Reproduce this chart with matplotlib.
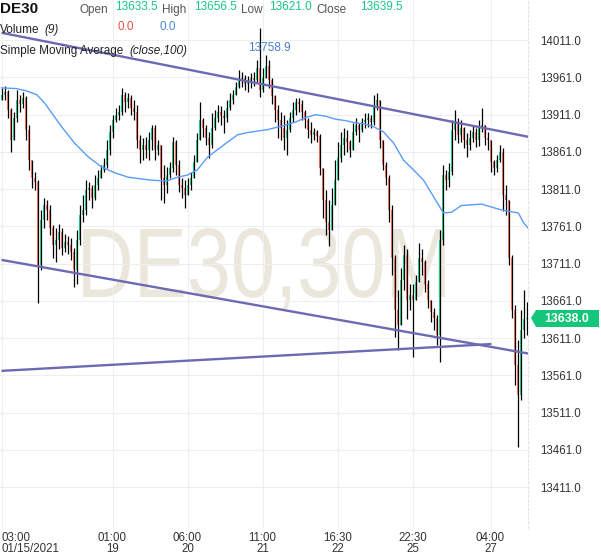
import matplotlib
matplotlib.use("Agg")
import matplotlib.pyplot as plt
from matplotlib.patches import Polygon, PathPatch
from matplotlib.font_manager import FontProperties
from matplotlib.textpath import TextPath
from matplotlib.transforms import Affine2D, IdentityTransform

# ---- candle data (30M bars, DE30) ----
first_open = 13931
closes = [
    13938, 13942, 13917, 13877, 13907, 13931, 13925, 13934, 13891, 13850,
    13826, 13821, 13709, 13770, 13790, 13783, 13759, 13736, 13743, 13754,
    13732, 13740, 13736, 13727, 13703, 13743, 13776, 13783, 13810, 13813,
    13799, 13817, 13826, 13837, 13844, 13864, 13888, 13904, 13911, 13915,
    13938, 13928, 13934, 13920, 13915, 13877, 13864, 13870, 13864, 13877,
    13893, 13864, 13870, 13826, 13817, 13830, 13840, 13874, 13844, 13817,
    13813, 13803, 13817, 13826, 13848, 13877, 13904, 13893, 13880, 13870,
    13893, 13907, 13915, 13909, 13907, 13920, 13931, 13938, 13948, 13958,
    13960, 13952, 13955, 13960, 13958, 13974, 13944, 13960, 13976, 13958,
    13936, 13917, 13904, 13893, 13880, 13891, 13907, 13917, 13928, 13925,
    13915, 13904, 13891, 13884, 13888, 13882, 13840, 13797, 13767, 13756,
    13790, 13823, 13853, 13870, 13880, 13874, 13864, 13888, 13897, 13891,
    13901, 13904, 13907, 13901, 13924, 13931, 13877, 13844, 13826, 13783,
    13719, 13649, 13629, 13689, 13723, 13662, 13669, 13662, 13687, 13719,
    13713, 13683, 13662, 13646, 13638, 13615, 13743, 13830, 13823, 13834,
    13891, 13901, 13884, 13893, 13877, 13870, 13880, 13888, 13877, 13893,
    13897, 13880, 13877, 13848, 13840, 13850, 13861, 13803, 13797, 13719,
    13649, 13575, 13535, 13622, 13636, 13638,
]
highs = [
    13947, 13950, 13944, 13920, 13915, 13944, 13938, 13942, 13936, 13897,
    13850, 13834, 13823, 13783, 13799, 13797, 13790, 13763, 13759, 13764,
    13759, 13751, 13748, 13746, 13732, 13756, 13790, 13803, 13823, 13821,
    13817, 13830, 13837, 13844, 13853, 13877, 13897, 13911, 13920, 13924,
    13947, 13942, 13940, 13938, 13931, 13924, 13884, 13880, 13881, 13888,
    13897, 13897, 13877, 13870, 13844, 13841, 13848, 13881, 13877, 13850,
    13826, 13823, 13826, 13834, 13857, 13887, 13928, 13907, 13897, 13888,
    13913, 13917, 13924, 13923, 13917, 13931, 13940, 13944, 13955, 13971,
    13968, 13964, 13963, 13967, 13968, 13984, 14027, 13974, 13991, 13984,
    13960, 13938, 13924, 13915, 13911, 13904, 13915, 13928, 13934, 13934,
    13931, 13917, 13907, 13901, 13893, 13891, 13885, 13834, 13810, 13797,
    13813, 13850, 13874, 13888, 13893, 13891, 13877, 13900, 13907, 13900,
    13907, 13913, 13913, 13911, 13938, 13940, 13924, 13877, 13848, 13830,
    13790, 13723, 13676, 13705, 13736, 13730, 13683, 13683, 13696, 13739,
    13730, 13716, 13689, 13660, 13652, 13642, 13756, 13844, 13837, 13846,
    13904, 13917, 13907, 13904, 13895, 13887, 13891, 13896, 13893, 13904,
    13920, 13897, 13888, 13877, 13850, 13857, 13870, 13866, 13817, 13797,
    13723, 13656, 13609, 13649, 13676, 13660,
]
lows = [
    13931, 13931, 13907, 13861, 13877, 13901, 13915, 13920, 13877, 13837,
    13813, 13810, 13658, 13703, 13759, 13770, 13750, 13719, 13713, 13730,
    13723, 13727, 13724, 13716, 13680, 13683, 13736, 13767, 13776, 13797,
    13786, 13797, 13810, 13826, 13834, 13840, 13857, 13880, 13901, 13904,
    13911, 13915, 13920, 13911, 13904, 13866, 13846, 13850, 13853, 13850,
    13864, 13850, 13857, 13797, 13793, 13806, 13826, 13834, 13830, 13807,
    13799, 13786, 13803, 13810, 13830, 13850, 13877, 13881, 13870, 13853,
    13866, 13891, 13901, 13897, 13887, 13901, 13917, 13925, 13938, 13947,
    13948, 13944, 13942, 13947, 13950, 13955, 13935, 13942, 13960, 13947,
    13925, 13901, 13880, 13877, 13864, 13857, 13888, 13901, 13911, 13915,
    13904, 13893, 13880, 13873, 13877, 13874, 13830, 13772, 13750, 13734,
    13759, 13803, 13837, 13848, 13857, 13861, 13854, 13870, 13884, 13874,
    13888, 13893, 13895, 13893, 13897, 13917, 13866, 13837, 13817, 13767,
    13696, 13613, 13595, 13636, 13676, 13636, 13649, 13586, 13662, 13703,
    13696, 13673, 13652, 13633, 13622, 13602, 13579, 13736, 13810, 13814,
    13830, 13877, 13873, 13874, 13866, 13854, 13864, 13874, 13868, 13869,
    13888, 13870, 13864, 13834, 13830, 13834, 13848, 13781, 13776, 13709,
    13638, 13548, 13465, 13528, 13611, 13615,
]

# ---- SMA(close,100) ----
sma_idx = [0, 5, 8.3, 11.7, 14.3, 20, 24.3, 29, 33.3, 37.7, 42.3, 50, 55,
           58.7, 62, 65.3, 68.7, 72, 75.3, 78.7, 82, 88.7, 94.7, 98, 101.3,
           104.7, 108, 111.3, 114.7, 118, 120.7, 124, 127.3, 130.7, 134,
           137.3, 140.7, 144, 147.3, 150, 153.3, 156.7, 160, 163.3, 166.7,
           172.3, 174, 175.7]
sma_val = [13947, 13946, 13943, 13938, 13927, 13895, 13873, 13854, 13841,
           13833, 13827, 13823, 13822, 13827, 13830, 13837, 13854, 13864,
           13874, 13884, 13887, 13891, 13897, 13901, 13907, 13911, 13909,
           13905, 13903, 13900, 13899, 13895, 13888, 13873, 13850, 13837,
           13823, 13801, 13779, 13780, 13789, 13790, 13791, 13787, 13783,
           13779, 13766, 13758]

# ---- trend lines (index, price) ----
upper_x, upper_y = [0, 176], [14021, 13881]
lower_x, lower_y = [0, 176], [13716, 13590]
base_x, base_y = [0, 163.3], [13567, 13603]

price_ticks = [13411, 13461, 13511, 13561, 13611, 13661, 13711, 13761,
               13811, 13861, 13911, 13961, 14011]
time_idx = [0, 37, 62, 87, 112, 137, 163]
time_labels = ["03:00\n01/15/2021", "01:00\n19", "06:00\n20", "11:00\n21",
               "16:30\n22", "22:30\n25", "04:00\n27"]

last_price = 13638.0

UP = "#16c784"
DOWN = "#f0675a"
LINE = "#6d69b3"
TXT = "#333333"

plt.rcParams["font.family"] = ["Liberation Sans", "DejaVu Sans"]

W, H = 601, 558
fig = plt.figure(figsize=(W / 100, H / 100), dpi=100)
ax = fig.add_axes([0, 30 / H, 528 / W, 528 / H])
ax.set_xlim(-0.5, 175.5)
ax.set_ylim(13356, 14065)


def px(x, y):
    return x / W, 1 - y / H


# watermark: condensed text, fitted to its box in pixels
wm = TextPath((0, 0), "DE30,30M", size=100, prop=FontProperties(family="Liberation Sans"))
ext = wm.get_extents()
sx = 362 / ext.width
sy = 69 / ext.y1
wm_tr = Affine2D().translate(-ext.x0, 0).scale(sx, sy).translate(83, H - 297)
ax.add_patch(PathPatch(wm, transform=wm_tr + IdentityTransform(), facecolor="#ebe7dc",
                       edgecolor="none", zorder=0, clip_on=False))

# candles
opens = [first_open] + closes[:-1]
for i, (o, h, l, c) in enumerate(zip(opens, highs, lows, closes)):
    hi = max(h, o, c)
    lo = min(l, o, c)
    ax.vlines(i, lo, hi, color="black", lw=0.9, zorder=3)
    col = UP if c >= o else DOWN
    ax.bar(i, max(abs(c - o), 1.0), bottom=min(o, c), width=0.5,
           color=col, lw=0, zorder=4)

ax.plot(sma_idx, sma_val, color="#5b9cf6", lw=1.0, zorder=5)
for xs, ys in [(upper_x, upper_y), (lower_x, lower_y), (base_x, base_y)]:
    ax.plot(xs, ys, color=LINE, lw=1.7, zorder=6, solid_capstyle="butt")

# axes styling
for s in ["left", "top", "bottom"]:
    ax.spines[s].set_visible(False)
ax.spines["right"].set_color("#e3e3e3")
ax.spines["right"].set_linestyle((0, (2, 2)))
ax.yaxis.tick_right()
ax.set_yticks(price_ticks)
ax.set_yticklabels([f"{p:.1f}" for p in price_ticks], fontsize=8.3, color=TXT)
ax.set_xticks(time_idx)
ax.set_xticklabels(time_labels, fontsize=8.3, color=TXT, linespacing=0.85)
ax.get_xticklabels()[0].set_ha("left")
ax.tick_params(length=0)
ax.tick_params(axis="y", pad=9)
ax.tick_params(axis="x", pad=3)
ax.grid(True, color="#efefef", lw=0.8, zorder=0)
ax.set_axisbelow(True)

# header legend
fig.text(*px(0, 9), "DE30", fontsize=11, fontweight="bold", color="#111111", va="center")
hdr = [("Open", 79, "#555555", 10), ("13633.5", 115, UP, 7),
       ("High", 162, "#555555", 10), ("13656.5", 194, UP, 7),
       ("Low", 241, "#555555", 10), ("13621.0", 269, UP, 7),
       ("Close", 316, "#555555", 10), ("13639.5", 360, UP, 7)]
for t, x, c, y in hdr:
    fig.text(*px(x, y), t, fontsize=8.5, color=c, va="center")
fig.text(*px(0, 30), "Volume", fontsize=8.5, color="#222222", va="center")
fig.text(*px(44, 30), "(9)", fontsize=8.5, color="#222222", va="center", style="italic")
fig.text(*px(117, 27), "0.0", fontsize=8.5, color="#e0524a", va="center")
fig.text(*px(160, 27), "0.0", fontsize=8.5, color="#4a86e0", va="center")
fig.text(*px(0, 51), "Simple Moving Average", fontsize=8.5, color="#222222", va="center")
fig.text(*px(129, 51), "(close,100)", fontsize=8.5, color="#222222", va="center", style="italic")
fig.text(*px(248, 48), "13758.9", fontsize=8.5, color="#4a7fd0", va="center")

# last price tag
tag = [px(531, 318), px(536, 310), px(599, 310), px(599, 327), px(536, 327)]
fig.add_artist(Polygon(tag, closed=True, transform=fig.transFigure,
                       facecolor="#14c67a", edgecolor="none"))
fig.text(*px(567, 318.5), f"{last_price:.1f}", fontsize=8.8, fontweight="bold",
         color="white", ha="center", va="center")

fig.savefig("out.png", dpi=100, facecolor="white")
